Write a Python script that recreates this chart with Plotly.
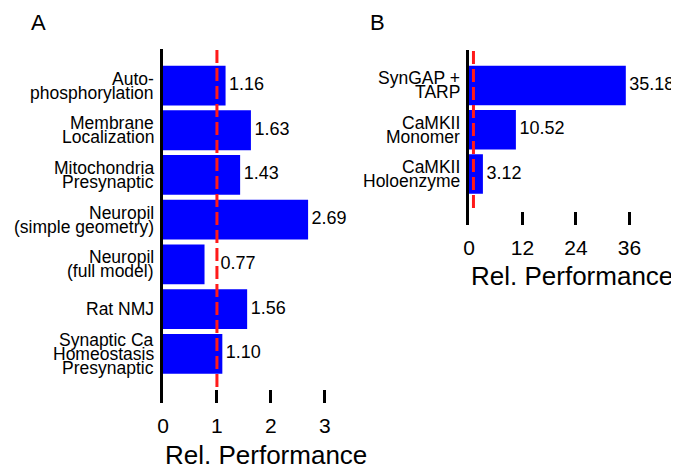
import plotly.graph_objects as go

# Panel A data
cats_a = ["Auto-<br>phosphorylation", "Membrane<br>Localization", "Mitochondria<br>Presynaptic",
          "Neuropil<br>(simple geometry)", "Neuropil<br>(full model)", "Rat NMJ",
          "Synaptic Ca<br>Homeostasis<br>Presynaptic"]
vals_a = [1.16, 1.63, 1.43, 2.69, 0.77, 1.56, 1.10]
ticks_a = [0, 1, 2, 3]

# Panel B data
cats_b = ["SynGAP +<br>TARP", "CaMKII<br>Monomer", "CaMKII<br>Holoenzyme"]
vals_b = [35.18, 10.52, 3.12]
ticks_b = [0, 12, 24, 36]

ref_value = 1

# the page body has an 8px margin; size the figure so it fills the rest of the window
OFF = 8
W, H = 679 - OFF, 468 - OFF
FONT = "Liberation Sans, Arial, sans-serif"
BLUE = "#0000ff"
LINE_H = 14


def px(v):
    return (v - OFF) / W


def py(v):
    return 1 - (v - OFF) / H


fig = go.Figure()

label_marker = dict(size=4, opacity=0)

fig.add_trace(go.Bar(x=vals_a, y=cats_a, orientation="h", marker=dict(color=BLUE, line=dict(width=0)),
                     width=0.89, xaxis="x", yaxis="y", showlegend=False, hoverinfo="skip"))
fig.add_trace(go.Scatter(x=[max(v, ref_value) for v in vals_a], y=cats_a, mode="markers+text",
                         marker=label_marker,
                         text=[f"{v:.2f}" for v in vals_a], textposition="middle right",
                         textfont=dict(size=18, color="black", family=FONT), cliponaxis=False,
                         xaxis="x", yaxis="y", showlegend=False, hoverinfo="skip"))

fig.add_trace(go.Bar(x=vals_b, y=cats_b, orientation="h", marker=dict(color=BLUE, line=dict(width=0)),
                     width=0.89, xaxis="x2", yaxis="y2", showlegend=False, hoverinfo="skip"))
fig.add_trace(go.Scatter(x=[max(v, ref_value) for v in vals_b], y=cats_b, mode="markers+text",
                         marker=label_marker,
                         text=[f"{v:.2f}" for v in vals_b], textposition="middle right",
                         textfont=dict(size=18, color="black", family=FONT), cliponaxis=False,
                         xaxis="x2", yaxis="y2", showlegend=False, hoverinfo="skip"))

xcommon = dict(showline=False, showgrid=False, zeroline=False, ticks="inside", ticklen=13,
               tickwidth=3, tickcolor="black", automargin=False, ticklabelstandoff=8,
               tickfont=dict(size=21, color="black", family=FONT))
ycommon = dict(showline=True, linewidth=3, linecolor="black", showgrid=False, zeroline=False,
               ticks="", showticklabels=False, automargin=False, type="category")

fig.update_layout(
    width=W, height=H, margin=dict(l=0, r=0, t=0, b=0),
    paper_bgcolor="white", plot_bgcolor="white",
    font=dict(family=FONT, color="black"),
    xaxis=dict(domain=[px(163), px(341)], range=[0, 3.3], tickvals=ticks_a, anchor="y", **xcommon),
    yaxis=dict(domain=[py(403), py(49)], range=[len(cats_a) - 1 + 1.1, -0.817], anchor="x",
               categoryorder="array", categoryarray=cats_a, **ycommon),
    xaxis2=dict(domain=[px(469), px(647.3)], range=[0, 40], tickvals=ticks_b, anchor="y2", **xcommon),
    yaxis2=dict(domain=[py(225), py(50)], range=[len(cats_b) - 1 + 1.15, -0.8], anchor="x2",
                categoryorder="array", categoryarray=cats_b, **ycommon),
    bargap=0.1,
)

# category labels with tight line spacing
for xr, yr, cats in (("x domain", "y", cats_a), ("x2 domain", "y2", cats_b)):
    for c in cats:
        lines = c.split("<br>")
        n = len(lines)
        for k, ln in enumerate(lines):
            fig.add_annotation(text=ln, xref=xr, yref=yr, x=0, y=c, xanchor="right", yanchor="middle",
                               xshift=-7, yshift=((n - 1) / 2 - k) * LINE_H, showarrow=False,
                               font=dict(size=17.5, family=FONT, color="black"))

dash = dict(color="#ff1a1a", width=3, dash="13px,5px")
fig.add_shape(type="line", xref="x", yref="paper", x0=ref_value, x1=ref_value,
              y0=py(387), y1=py(49), line=dash)
fig.add_shape(type="line", xref="x2", yref="paper", x0=ref_value, x1=ref_value,
              y0=py(208), y1=py(50), line=dash)

fig.add_annotation(text="A", xref="paper", yref="paper", x=px(29), y=py(22),
                   xanchor="left", yanchor="middle", showarrow=False, font=dict(size=22, family=FONT))
fig.add_annotation(text="B", xref="paper", yref="paper", x=px(368), y=py(22),
                   xanchor="left", yanchor="middle", showarrow=False, font=dict(size=22, family=FONT))

fig.add_annotation(text="Rel. Performance", xref="x domain", yref="paper", x=0, y=py(455),
                   xanchor="left", yanchor="middle", showarrow=False, font=dict(size=26, family=FONT))
fig.add_annotation(text="Rel. Performance", xref="x2 domain", yref="paper", x=0, y=py(276),
                   xanchor="left", yanchor="middle", showarrow=False, font=dict(size=26, family=FONT))

fig.write_html("out.html")
